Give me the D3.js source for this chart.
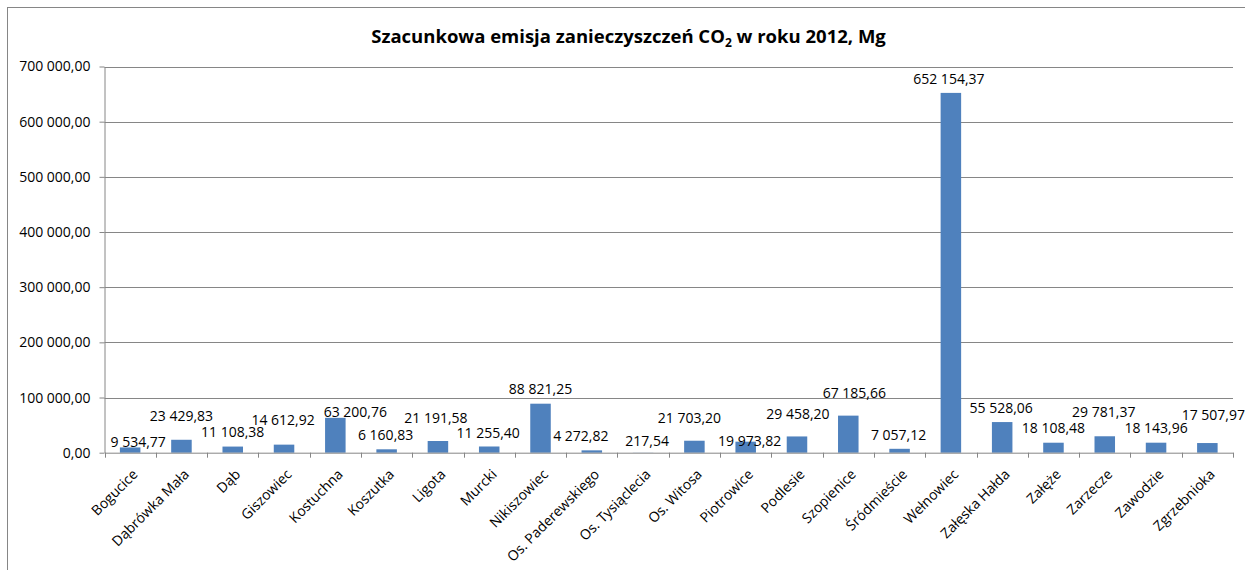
<!DOCTYPE html>
<html><head><meta charset="utf-8">
<script src="https://cdn.jsdelivr.net/npm/d3@7"></script>
<style>
body{margin:0;background:#fff}
svg{display:block}
text{font-family:"Open Sans",sans-serif;fill:#000}
</style>
</head><body>
<svg id="chart" width="1245" height="570"></svg>
<script>
// ---------- DATA ----------
const categories = ["Bogucice","Dąbrówka Mała","Dąb","Giszowiec","Kostuchna","Koszutka","Ligota","Murcki","Nikiszowiec","Os. Paderewskiego","Os. Tysiąclecia","Os. Witosa","Piotrowice","Podlesie","Szopienice","Śródmieście","Wełnowiec","Załęska Hałda","Załęże","Zarzecze","Zawodzie","Zgrzebnioka"];
const values = [9534.77,23429.83,11108.38,14612.92,63200.76,6160.83,21191.58,11255.40,88821.25,4272.82,217.54,21703.20,19973.82,29458.20,67185.66,7057.12,652154.37,55528.06,18108.48,29781.37,18143.96,17507.97];
const yTickValues = [0,100000,200000,300000,400000,500000,600000,700000];
const titleParts = ["Szacunkowa emisja zanieczyszczeń CO", "2", " w roku 2012, Mg"];

// ---------- LAYOUT ----------
const plot = {left:104.5, right:1233, top:66.5, bottom:452.7};
// label nudges [dx, dy] (px) relative to bar centre / bar top, as placed in the original
const labelNudge = [[8,-5.7],[0,-23.8],[0,-14.6],[-1,-24.6],[20,-6.1],[-1,-14.3],[-2,-23.3],[-1,-13.8],[0,-14.4],[-11,-14.3],[4,-11.9],[-5,-23],[4,-1],[1,-22.2],[6,-22.9],[-1,-13.8],[-2,-13.9],[-1,-13.8],[0,-14.4],[-1,-24.6],[0,-14.4],[6,-28]];
const gridColor = "#868686";
const barColor = "#4F81BD";
const fontSize = 14;

const pl = d3.formatLocale({decimal:",", thousands:"\u00a0", grouping:[3], currency:["","zł"]});
const fmt = pl.format(",.2f");

const svg = d3.select("#chart");

// chart border
svg.append("rect").attr("x",7.5).attr("y",7.5).attr("width",1400).attr("height",800)
  .attr("fill","none").attr("stroke",gridColor).attr("stroke-width",1);

const x = d3.scaleBand().domain(categories).range([plot.left, plot.right]).paddingInner(0.6).paddingOuter(0.3);
const y = d3.scaleLinear().domain([0,700000]).range([plot.bottom, plot.top]);

// gridlines
svg.append("g").selectAll("line").data(yTickValues.filter(d=>d>0)).join("line")
  .attr("x1",plot.left).attr("x2",plot.right)
  .attr("y1",d=>Math.round(y(d))+0.5).attr("y2",d=>Math.round(y(d))+0.5)
  .attr("stroke",gridColor).attr("stroke-width",1);

// y axis
const yAxis = svg.append("g").attr("transform",`translate(${plot.left},0)`)
  .call(d3.axisLeft(y).tickValues(yTickValues).tickFormat(fmt).tickSizeInner(5).tickSizeOuter(0).tickPadding(9));
yAxis.select(".domain").attr("stroke",gridColor);
yAxis.selectAll(".tick line").attr("stroke",gridColor);
yAxis.selectAll("text").style("font-family",'"Open Sans",sans-serif').style("font-size",fontSize+"px").attr("fill","#000");

// bars
svg.append("g").selectAll("rect").data(values).join("rect")
  .attr("x",(d,i)=>x(categories[i]))
  .attr("width",x.bandwidth())
  .attr("y",d=>y(d))
  .attr("height",d=>y(0)-y(d))
  .attr("fill",barColor);

// x axis
const xAxis = svg.append("g").attr("transform",`translate(0,${plot.bottom})`)
  .call(d3.axisBottom(x).tickSize(0).tickPadding(0));
xAxis.select(".domain").attr("stroke",gridColor);
xAxis.selectAll("text")
  .style("font-family",'"Open Sans",sans-serif').style("font-size","14px").attr("fill","#000")
  .attr("y",0).attr("dy","0.35em").attr("text-anchor","end")
  .attr("transform","translate(5,19) rotate(-45)");
// category boundary ticks
const step = x.step();
svg.append("g").selectAll("line").data(d3.range(categories.length+1)).join("line")
  .attr("x1",i=>Math.round(plot.left + i*step)+0.5).attr("x2",i=>Math.round(plot.left + i*step)+0.5)
  .attr("y1",plot.bottom).attr("y2",plot.bottom+5)
  .attr("stroke",gridColor);

// data labels
svg.append("g").selectAll("text").data(values).join("text")
  .attr("x",(d,i)=>x(categories[i]) + x.bandwidth()/2 + labelNudge[i][0])
  .attr("y",(d,i)=>y(d) + labelNudge[i][1])
  .attr("dy","0.35em").attr("text-anchor","middle")
  .style("font-size",fontSize+"px")
  .text(d=>fmt(d));

// title
const t = svg.append("text").attr("x",628.5).attr("y",43).attr("text-anchor","middle")
  .style("font-weight","bold").style("font-size","18.5px");
t.append("tspan").text(titleParts[0]);
t.append("tspan").attr("dy",4).style("font-size","12px").text(titleParts[1]);
t.append("tspan").attr("dy",-4).text(titleParts[2]);
</script>
</body></html>
